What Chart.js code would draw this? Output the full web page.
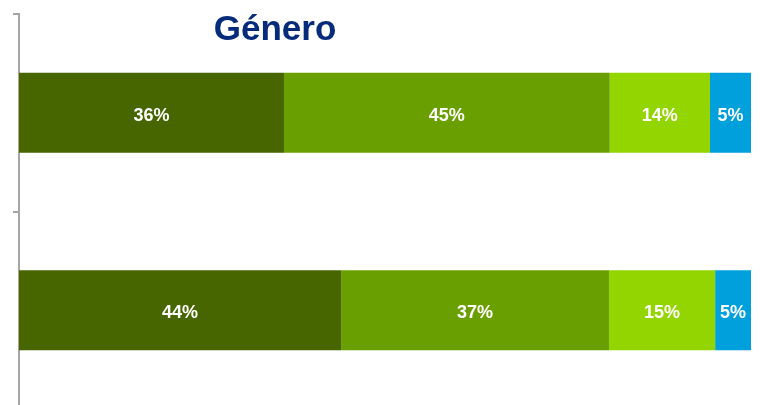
<!DOCTYPE html>
<html>
<head>
<meta charset="utf-8">
<title>Género</title>
<script src="https://cdn.jsdelivr.net/npm/chart.js@4.4.0/dist/chart.umd.min.js"></script>
<style>
    html, body { margin: 0; padding: 0; background: #fff; overflow: hidden; }
    #wrap { position: relative; width: 775px; height: 405px; overflow: hidden; }
    #titulo {
        position: absolute; left: 275px; top: 8px; transform: translateX(-50%);
        font-family: 'Liberation Sans', Arial, sans-serif; font-weight: bold;
        font-size: 35px; color: #062b7b; white-space: nowrap;
    }
    canvas { position: absolute; left: 0; top: 0; }
</style>
</head>
<body>
<div id="wrap">
    <canvas id="chart-genero" width="775" height="409"></canvas>
    <div id="titulo">Género</div>
</div>
<script>
// Datos (porcentaje de cada tramo)
const categorias = ['Grupo 1', 'Grupo 2'];
const tramo1 = [36.2, 44.0];
const tramo2 = [44.5, 36.6];
const tramo3 = [13.7, 14.5];
const tramo4 = [5.6, 4.9];
// Textos de las etiquetas tal como aparecen
const etiq1 = ['36%', '44%'];
const etiq2 = ['45%', '37%'];
const etiq3 = ['14%', '15%'];
const etiq4 = ['5%', '5%'];

const colores = ['#476600', '#6a9f00', '#93d500', '#00a0dc'];

// Pinta los porcentajes en el centro de cada tramo
const etiquetasPlugin = {
    id: 'etiquetas',
    afterDatasetsDraw(chart) {
        const ctx = chart.ctx;
        ctx.save();
        ctx.fillStyle = '#ffffff';
        ctx.font = "bold 18px 'Liberation Sans', Arial, sans-serif";
        ctx.textAlign = 'center';
        ctx.textBaseline = 'middle';
        chart.data.datasets.forEach((ds, i) => {
            const meta = chart.getDatasetMeta(i);
            meta.data.forEach((bar, j) => {
                const p = bar.getCenterPoint();
                ctx.fillText(ds.etiquetas[j], p.x, p.y + 3);
            });
        });
        ctx.restore();
    }
};

const ctx = document.getElementById('chart-genero');
new Chart(ctx, {
    type: 'bar',
    data: {
        labels: categorias,
        datasets: [
            { label: 'Tramo 1', data: tramo1, etiquetas: etiq1, backgroundColor: colores[0] },
            { label: 'Tramo 2', data: tramo2, etiquetas: etiq2, backgroundColor: colores[1] },
            { label: 'Tramo 3', data: tramo3, etiquetas: etiq3, backgroundColor: colores[2] },
            { label: 'Tramo 4', data: tramo4, etiquetas: etiq4, backgroundColor: colores[3] }
        ]
    },
    options: {
        indexAxis: 'y',
        responsive: false,
        animation: false,
        devicePixelRatio: 1,
        layout: { padding: { left: 13, right: 24, top: 14, bottom: 0 } },
        datasets: { bar: { categoryPercentage: 1, barPercentage: 0.405, borderWidth: 0 } },
        plugins: { legend: { display: false }, tooltip: { enabled: false } },
        scales: {
            x: { stacked: true, min: 0, max: 100, display: false },
            y: {
                stacked: true,
                offset: true,
                ticks: { display: false },
                grid: { offset: true, drawOnChartArea: false, drawTicks: true, tickLength: 6, color: '#a6a6a6', lineWidth: 2 },
                border: { display: true, color: '#a6a6a6', width: 2 }
            }
        }
    },
    plugins: [etiquetasPlugin]
});
</script>
</body>
</html>
